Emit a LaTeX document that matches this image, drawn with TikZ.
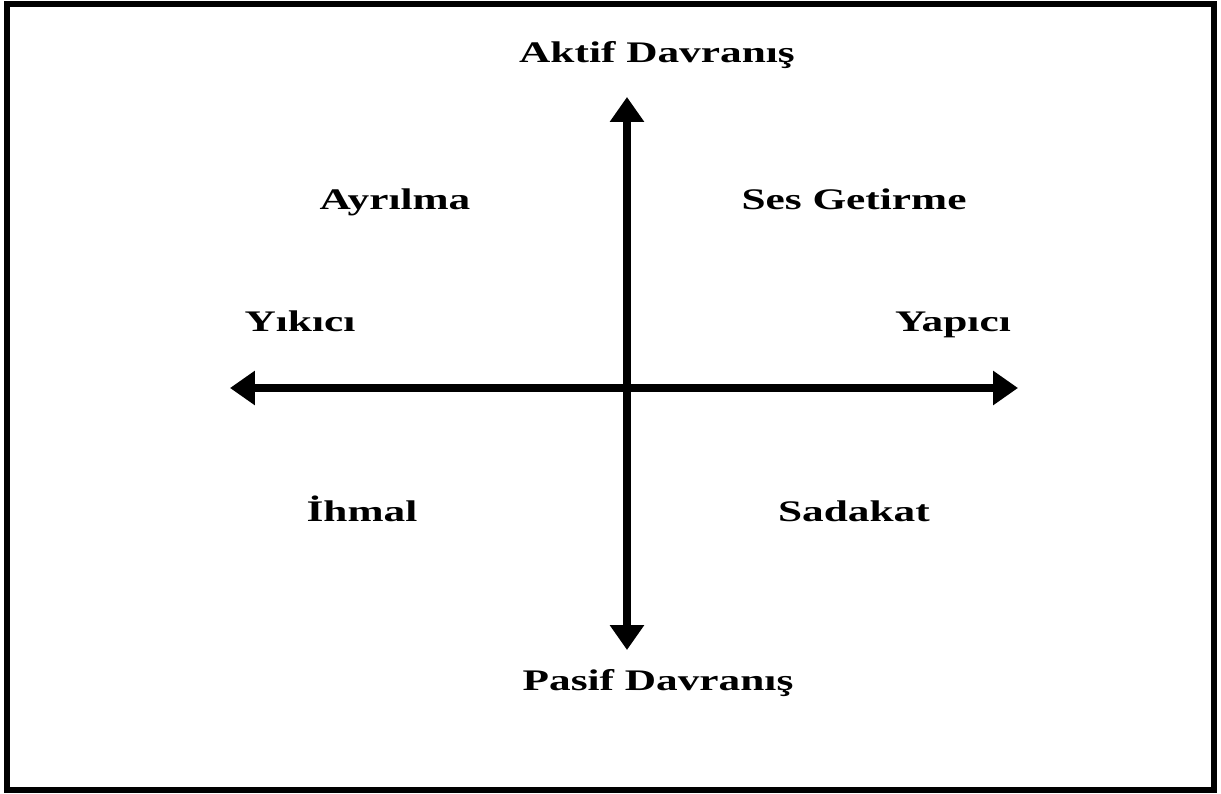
\documentclass[tikz,border=0pt]{standalone}
\usepackage{fontspec}
\setmainfont{Liberation Serif}
\usepackage{tikz}
\usetikzlibrary{arrows.meta, positioning}
\tikzset{
  lbl/.style={font=\fontsize{17}{20}\selectfont\bfseries, anchor=base, inner sep=0pt, xscale=1.45},
  axis/.style={line width=0.16cm, {Triangle[length=0.5cm, width=0.66cm]}-{Triangle[length=0.5cm, width=0.66cm]}}
}

\begin{document}
\begin{tikzpicture}
  % Page and frame
  \useasboundingbox (-12.54,-8.12) rectangle (11.88,7.76);
  \draw[line width=0.12cm] (-12.4,-8.04) rectangle (11.74,7.68);
  % Axis ends
  \coordinate (top) at (0,5.82);
  \coordinate (bottom) at (0,-5.24);
  \coordinate (left) at (-7.94,0);
  \coordinate (right) at (7.82,0);
  % Axes
  \draw[axis] (bottom) -- (top);
  \draw[axis] (left) -- (right);
  % Labels
  \node[lbl] (aktif) at (0.6,6.5) {Aktif Davranış};
  \node[lbl] (pasif) at (0.62,-6.04) {Pasif Davranış};
  \node[lbl] (yikici) at (-6.54,1.12) {Yıkıcı};
  \node[lbl] (yapici) at (6.52,1.12) {Yapıcı};
  \node[lbl] (ayrilma) at (-4.64,3.56) {Ayrılma};
  \node[lbl] (ses) at (4.54,3.56) {Ses Getirme};
  \node[lbl] (ihmal) at (-5.3,-2.68) {İhmal};
  \node[lbl] (sadakat) at (4.54,-2.68) {Sadakat};
\end{tikzpicture}
\end{document}
